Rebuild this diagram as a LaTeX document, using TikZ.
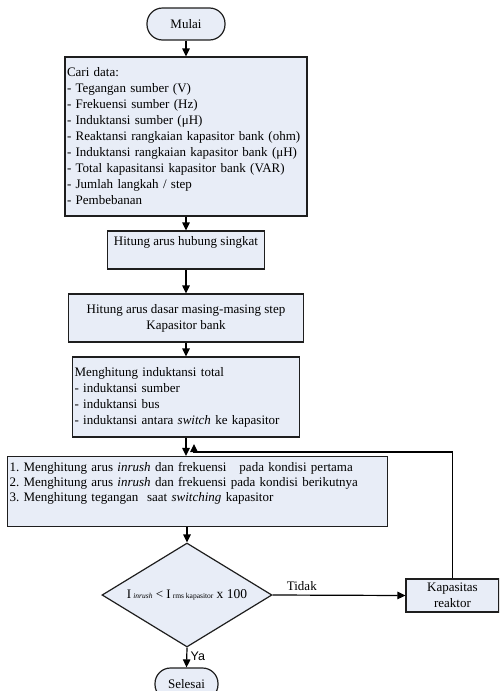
\documentclass[tikz,border=0pt]{standalone}
\usepackage{fontspec}
\setmainfont{Liberation Serif}
\newfontfamily\arialfont{Liberation Sans}
\usetikzlibrary{shapes.geometric,arrows.meta}
\definecolor{boxfill}{RGB}{232,237,247}
\definecolor{edge}{RGB}{30,30,30}
\tikzset{
  base/.style={draw=edge, line width=1.2pt, fill=boxfill, font=\fontsize{13}{16}\selectfont},
  procbox/.style={base, rectangle, inner sep=0pt},
  leftbox/.style={procbox, align=left, inner xsep=2pt},
  term/.style={base, rectangle, rounded corners=15.5pt, inner sep=0pt},
  decision/.style={base, diamond, inner sep=0pt, aspect=1.63, minimum width=170pt, minimum height=104pt},
  arr/.style={line width=1.2pt, draw=black, -{Triangle[length=8pt,width=7.5pt]}},
  lbl/.style={font=\fontsize{13}{16}\selectfont},
}
\begin{document}
\frenchspacing
\begin{tikzpicture}[x=1pt,y=-1pt]
\useasboundingbox (0,0) rectangle (499,691);
\clip (0,0) rectangle (499,691);

\node[term, minimum width=78pt, minimum height=32pt] (mulai) at (186,24) {Mulai};

\node[leftbox, minimum width=242pt, minimum height=159pt, text width=238pt] (b1) at (186,136.5) {Cari data:\\
- Tegangan sumber (V)\\
- Frekuensi sumber (Hz)\\
- Induktansi sumber (μH)\\
- Reaktansi rangkaian kapasitor bank (ohm)\\
- Induktansi rangkaian kapasitor bank (μH)\\
- Total kapasitansi kapasitor bank (VAR)\\
- Jumlah langkah / step\\
- Pembebanan};

\node[procbox, align=center, minimum width=157pt, minimum height=38pt] (b2) at (186,250) {Hitung arus hubung singkat\\[-2pt]\strut};

\node[procbox, align=center, minimum width=235pt, minimum height=48pt] (b3) at (186,318) {Hitung arus dasar masing-masing step\\Kapasitor bank};

\node[leftbox, minimum width=227pt, minimum height=80pt, text width=223pt] (b4) at (186,397) {Menghitung induktansi total\\
- induktansi sumber\\
- induktansi bus\\
- induktansi antara \textit{switch} ke kapasitor};

\node[leftbox, minimum width=380pt, minimum height=70pt, text width=376pt, font=\fontsize{13}{15}\selectfont] (b5) at (197.5,491.5) {1. Menghitung arus \textit{inrush} dan frekuensi\ \ \ pada kondisi pertama\\
2. Menghitung arus \textit{inrush} dan frekuensi pada kondisi berikutnya\\
3. Menghitung tegangan\ \ saat \textit{switching} kapasitor\\
\strut};

\node[decision] (d) at (187,595) {I\,{\fontsize{7.5}{9}\selectfont\itshape inrush} < I\,{\fontsize{7.5}{9}\selectfont rms kapasitor} {\fontsize{13.5}{16}\selectfont x 100}};

\node[procbox, align=center, minimum width=93pt, minimum height=33pt] (kap) at (452.5,595.5) {Kapasitas\\reaktor};

\node[term, minimum width=63pt, minimum height=32pt] (selesai) at (186.5,684) {Selesai};

\draw[arr] (mulai.south) -- (b1.north);
\draw[arr] (b1.south) -- (b2.north);
\draw[arr] (b2.south) -- (b3.north);
\draw[arr] (b3.south) -- (b4.north);
\draw[arr] (b4.south) -- (b4.south |- b5.north);
\draw[arr] (d.north |- b5.south) -- (d.north);
\draw[arr] (d.south) -- (selesai.north) node[pos=0.45, right=0pt, font=\arialfont\fontsize{12.5}{14}\selectfont] {Ya};
\draw[arr] (d.east) -- (kap.west) node[pos=0.22, above=1pt, lbl] {Tidak};
\coordinate (fb) at (194,452);
\draw[line width=1.2pt] (kap.north) |- (fb);
\draw[arr] (fb) -- ++(0,-8);
\end{tikzpicture}
\end{document}
